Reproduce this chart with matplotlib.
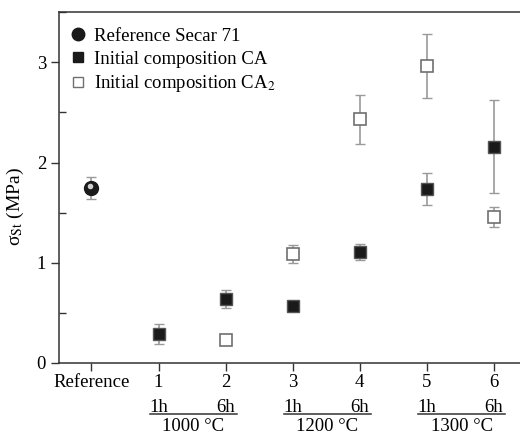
import numpy as np
import matplotlib
matplotlib.use("Agg")
import matplotlib.pyplot as plt
from matplotlib.lines import Line2D
from matplotlib.ticker import MultipleLocator
import matplotlib.transforms as mtransforms

plt.rcParams['font.family'] = 'Liberation Serif'
plt.rcParams['mathtext.fontset'] = 'stix'
plt.rcParams['font.size'] = 13

# data
tick_labels = ['Reference', '1', '2', '3', '4', '5', '6']
ref_x = [0]
ref_y = [1.75]
ref_err = [0.11]

ca_x = [1, 2, 3, 4, 5, 6]
ca_y = [0.29, 0.635, 0.565, 1.105, 1.74, 2.16]
ca_err = [0.10, 0.09, 0.03, 0.08, 0.16, 0.46]

ca2_x = [2, 3, 4, 5, 6]
ca2_y = [0.225, 1.085, 2.43, 2.96, 1.46]
ca2_err = [0.0, 0.09, 0.24, 0.32, 0.10]

groups = [(1, 2, '1000 °C'), (3, 4, '1200 °C'), (5, 6, '1300 °C')]

fig = plt.figure(figsize=(5.2, 4.34), dpi=100)
ax = fig.add_axes([0.114, 0.1643, 0.886, 0.8071])

ecol = '#9a9a9a'
ax.errorbar(ref_x, ref_y, yerr=ref_err, fmt='none', ecolor=ecol, elinewidth=1.2, capsize=3.5, zorder=2)
ax.errorbar(ca_x, ca_y, yerr=ca_err, fmt='none', ecolor=ecol, elinewidth=1.2, capsize=3.5, zorder=2)
ax.errorbar(ca2_x, ca2_y, yerr=ca2_err, fmt='none', ecolor=ecol, elinewidth=1.2, capsize=3.5, zorder=2)

# shaded sphere marker for reference
ax.plot(ref_x, ref_y, 'o', color='#1a1a1a', markersize=10, zorder=3)
hl = mtransforms.offset_copy(ax.transData, fig=fig, x=-1.2, y=1.2, units='points')
ax.plot(ref_x, ref_y, 'o', color='#cfcfcf', markersize=4, markeredgewidth=0, transform=hl, zorder=4)

ax.plot(ca_x, ca_y, 's', color='#1a1a1a', markeredgecolor='#555555', markersize=8, zorder=3)
ax.plot(ca2_x, ca2_y, 's', markerfacecolor='white', markeredgecolor='#707070',
        markeredgewidth=1.2, markersize=8, zorder=3)

ax.set_xlim(-0.48, 6.39)
ax.set_ylim(0, 3.5)
ax.set_xticks(range(len(tick_labels)))
ax.set_xticklabels(tick_labels)
ax.set_yticks([0, 1, 2, 3])
ax.yaxis.set_minor_locator(MultipleLocator(0.5))
ax.tick_params(axis='both', which='major', direction='out', length=6, width=1, colors='#333333',
               labelcolor='black', labelsize=13.5)
ax.tick_params(axis='y', which='minor', direction='in', length=5, width=1, colors='#333333')
ax.tick_params(axis='x', which='major', pad=2)

ax.spines['right'].set_visible(False)
for s in ['left', 'bottom', 'top']:
    ax.spines[s].set_color('#333333')
    ax.spines[s].set_linewidth(1.1)

ax.set_ylabel('σ$_{\\mathrm{St}}$ (MPa)', fontsize=14)
ax.yaxis.set_label_coords(-0.072, 0.445)

# group annotations under the x axis
tr = ax.get_xaxis_transform()
for a, b, label in groups:
    ax.text(a, -0.127, '1h', transform=tr, ha='center', va='center', fontsize=13.5)
    ax.text(b, -0.127, '6h', transform=tr, ha='center', va='center', fontsize=13.5)
    ax.add_line(Line2D([a - 0.13, b + 0.17], [-0.147, -0.147], transform=tr, color='#333333',
                       linewidth=1.1, clip_on=False))
    ax.text((a + b) / 2 + 0.02, -0.183, label, transform=tr, ha='center', va='center', fontsize=13.5)

# legend
h_ref = Line2D([], [], marker='o', color='#1a1a1a', linestyle='none', markersize=9)
h_ca = Line2D([], [], marker='s', color='#1a1a1a', linestyle='none', markersize=7)
h_ca2 = Line2D([], [], marker='s', markerfacecolor='white', markeredgecolor='#707070',
               linestyle='none', markersize=7)
ax.legend([h_ref, h_ca, h_ca2],
          ['Reference Secar 71', 'Initial composition CA', r'Initial composition CA$_2$'],
          loc='upper left', bbox_to_anchor=(0.0, 0.988), frameon=False, fontsize=13.5,
          handlelength=0.8, handletextpad=0.45, labelspacing=0.3, borderaxespad=0.2,
          borderpad=0.4)

fig.savefig('out.png', dpi=100)
